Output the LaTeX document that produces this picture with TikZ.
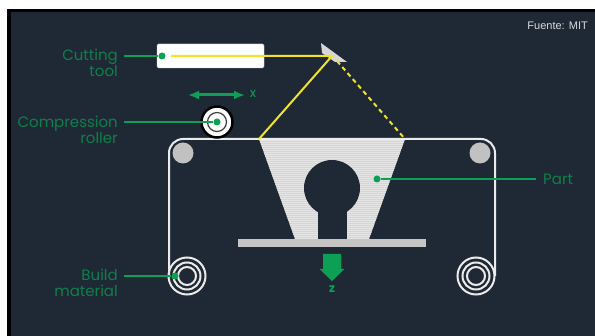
\documentclass[tikz,border=0pt]{standalone}
\usepackage{fontspec}
\setmainfont{Poppins}
\newfontfamily\fuentefont{Liberation Sans}
\usetikzlibrary{arrows.meta,calc}
\definecolor{FondoAzul}{RGB}{31,41,54}
\definecolor{VerdeMarca}{RGB}{12,160,84}
\definecolor{VerdeTexto}{RGB}{14,128,74}
\definecolor{AmarilloLaser}{RGB}{240,228,40}
\definecolor{GrisPieza}{RGB}{214,214,214}
\tikzset{
  etiqueta/.style={text=VerdeTexto,font=\fontsize{15}{15.5}\selectfont,align=right,inner sep=0pt},
  guia/.style={VerdeMarca,line width=1.4pt},
  punto/.style={fill=VerdeMarca,draw=none,circle,inner sep=0pt,minimum size=7pt},
  laser/.style={AmarilloLaser,line width=2pt},
  anillo/.style={draw=white!92!black,line width=2pt},
}
\begin{document}
\begin{tikzpicture}[x=1pt,y=-1pt,>=Latex]
  \useasboundingbox (0,0) rectangle (595,336);
  \fill[white] (0,0) rectangle (595,336);
  \fill[black] (7,9) rectangle (595,336);
  \fill[FondoAzul] (10.5,12.5) rectangle (595,336);
  \coordinate (haz) at (332,56);
  \coordinate (espejo) at (337,61);
  \coordinate (PA) at (259,139);
  \coordinate (PB) at (405,139);
  \coordinate (PC) at (369,239);
  \coordinate (PD) at (295,239);
  \coordinate (SL) at (187,276);
  \coordinate (SR) at (476,276);
  % part
  \fill[GrisPieza] (PA)--(PB)--(PC)--(PD)--cycle;
  \begin{scope}
    \clip (PA)--(PB)--(PC)--(PD)--cycle;
    \foreach \y in {140,142,...,239}
      \draw[white!35!GrisPieza,line width=0.5pt] (250,\y)--(410,\y);
  \end{scope}
  \fill[FondoAzul] (332,188) circle (28);
  \fill[FondoAzul] (318,205) rectangle (347,239.5);
  \fill[GrisPieza!92!black] (238,239) rectangle (426,247);
  % belt and spools
  \draw[anillo] (169,276)--(169,153) arc[start angle=180,end angle=270,radius=14]--(481,139)
    arc[start angle=-90,end angle=0,radius=14]--(495,276);
  \foreach \c in {SL,SR} {
    \draw[anillo] (\c) circle (18.5);
    \draw[anillo] (\c) circle (13.5);
    \draw[anillo] (\c) circle (9);
  }
  \fill[GrisPieza!90!black] (183,153) circle (10.5);
  \fill[GrisPieza!90!black] (480,153) circle (10.5);
  % tool, mirror and beam
  \node[fill=white,draw=GrisPieza,rounded corners=1.5pt,minimum width=107pt,minimum height=24pt,inner sep=0pt] (tool) at (210.5,56) {};
  \fill[GrisPieza] (321,43)--(347,62)--(335,62)--(322,53)--cycle;
  \draw[laser] (171,56)--(haz)--(PA);
  \draw[laser,dash pattern=on 4.5pt off 3.5pt] (espejo)--(PB);
  % roller
  \node[circle,fill=white,draw=black,line width=2.5pt,minimum size=31pt,inner sep=0pt] (roller) at (217,122) {};
  \draw[black!75,line width=1.2pt] (roller) circle (9.5);
  % axes
  \coordinate (xI) at (188,95);
  \coordinate (xD) at (245,95);
  \draw[{Latex[length=11pt,width=9pt]}-{Latex[length=11pt,width=9pt]},VerdeMarca,line width=3pt] (xI)--(xD);
  \node[text=VerdeMarca,font=\fontsize{13}{13}\selectfont,inner sep=0pt] (xlabel) at (253,94) {x};
  \fill[VerdeMarca] (323,254)--(341,254)--(341,269)--(344.5,269)--(332,281)--(319.5,269)--(323,269)--cycle;
  \node[text=VerdeMarca,font=\bfseries\fontsize{12}{12}\selectfont,inner sep=0pt] (zlabel) at (332,289) {z};
  % labels
  \node[etiqueta,anchor=east] (cutting) at (118,63) {Cutting\\tool};
  \node[etiqueta,anchor=east] (compression) at (118,130) {Compression\\roller};
  \node[etiqueta,anchor=east] (build) at (118,283) {Build\\material};
  \node[etiqueta,anchor=west] (part) at (543,179) {Part};
  \node[punto] (dotC) at (162,56) {};
  \node[punto] (dotR) at (217,122) {};
  \node[punto] (dotB) at (175,276) {};
  \node[punto] (dotP) at (377,179) {};
  \coordinate (gC) at (124,56);
  \coordinate (gR) at (124,122);
  \coordinate (gB) at (124,276);
  \coordinate (gP) at (536,179);
  \draw[guia] (gC)--(dotC);
  \draw[guia] (gR)--(dotR);
  \draw[guia] (gB)--(dotB);
  \draw[guia] (dotP)--(gP);
  \node[anchor=east,text=white!85!black,font=\fuentefont\fontsize{11}{11}\selectfont,inner sep=0pt] (fuente) at (588,26) {Fuente: MIT};
\end{tikzpicture}
\end{document}
